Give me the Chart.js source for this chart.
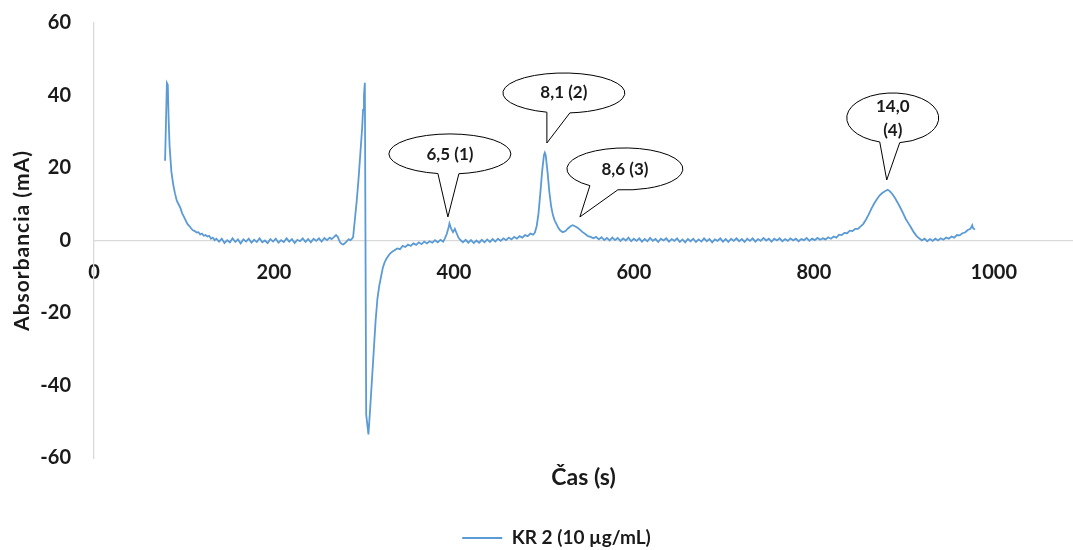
<!DOCTYPE html>
<html>
<head>
<meta charset="utf-8">
<script src="https://cdn.jsdelivr.net/npm/chart.js@4.4.1/dist/chart.umd.min.js"></script>
<style>
  html, body { margin: 0; background: #fff; }
  #wrap { width: 1073px; height: 550px; }
</style>
</head>
<body>
<div id="wrap"><canvas id="chart"></canvas></div>
<script>
// Data
const seriesLabel = 'KR 2 (10 µg/mL)';
const xTitle = 'Čas (s)';
const yTitle = 'Absorbancia (mA)';
const xTicks = [0, 200, 400, 600, 800, 1000];
const yTicks = [-60, -40, -20, 0, 20, 40, 60];

const timeS = [
  79, 81, 82, 83, 84, 86, 88, 90, 92, 94,
  96, 98, 100, 102, 104, 106, 108, 110, 112, 114,
  116, 118, 120, 122, 124, 126, 128, 130, 132, 134,
  136, 139, 142, 145, 148, 151, 154, 157, 160, 163,
  166, 169, 172, 175, 178, 181, 184, 187, 190, 193,
  196, 199, 202, 205, 208, 211, 214, 217, 220, 223,
  226, 229, 232, 235, 238, 241, 244, 247, 250, 253,
  256, 259, 262, 264, 266, 269, 271, 273, 275, 277,
  279, 281, 283, 285, 287, 288, 290, 292, 294, 296,
  298, 299, 300, 301, 302.5, 305, 307, 309, 311, 313,
  315, 317, 319, 321, 323, 325, 327, 329, 331, 334,
  337, 340, 343, 346, 349, 352, 355, 358, 361, 364,
  367, 370, 373, 376, 379, 382, 385, 388, 390, 392,
  394, 395, 397, 399, 401, 403, 405, 407, 410, 413,
  416, 419, 422, 425, 428, 431, 434, 437, 440, 443,
  446, 449, 452, 455, 458, 461, 464, 467, 470, 473,
  476, 479, 482, 485, 488, 490, 492, 494, 496, 498,
  500, 501, 502, 504, 506, 508, 510, 512, 514, 516,
  518, 521, 524, 527, 530, 532, 534, 537, 540, 543,
  546, 549, 552, 555, 558, 561, 564, 567, 570, 573,
  576, 579, 582, 585, 588, 591, 594, 597, 600, 603,
  606, 609, 612, 615, 618, 621, 624, 627, 630, 633,
  636, 639, 642, 645, 648, 651, 654, 657, 660, 663,
  666, 669, 672, 675, 678, 681, 684, 687, 690, 693,
  696, 699, 702, 705, 708, 711, 714, 717, 720, 723,
  726, 729, 732, 735, 738, 741, 744, 747, 750, 753,
  756, 759, 762, 765, 768, 771, 774, 777, 780, 783,
  786, 789, 792, 795, 798, 801, 804, 807, 810, 813,
  816, 819, 822, 825, 828, 831, 834, 837, 840, 843,
  846, 849, 852, 855, 858, 861, 864, 867, 870, 873,
  876, 879, 882, 884, 887, 890, 893, 896, 899, 902,
  905, 908, 911, 914, 917, 920, 923, 926, 929, 932,
  935, 938, 941, 944, 947, 950, 953, 956, 959, 962,
  965, 968, 971, 974, 976, 977, 979
];

const absorbance = [
  22, 43.5, 43, 33, 26, 19, 15.5, 13, 11, 10,
  9, 7.5, 6.5, 5.5, 4.5, 4, 3.3, 2.8, 2.6, 2.2,
  2.3, 1.7, 1.9, 1.3, 1.5, 1.1, 1.3, 0.5, 0.8, 0.1,
  0.5, -0.3, 0.5, -0.7, 0.1, -0.5, 0.6, -0.4, 0.3, -0.8,
  0.3, -0.3, 0.5, -0.6, 0.2, -0.4, 0.6, -0.5, 0, -0.7,
  0.4, -0.3, 0.5, -0.6, 0.1, -0.4, 0.6, -0.3, 0.4, -0.7,
  0.2, -0.2, 0.6, -0.4, 0.4, -0.5, 0.5, -0.1, 0.6, -0.3,
  0.7, 0.1, 0.8, 0.4, 0.8, 1.5, 1.0, -0.3, -0.9, -1.1,
  -0.7, -0.2, 0.3, 0.1, 0.6, 1, 6, 11, 17, 24,
  31, 36, 40, 43.5, -48, -53.5, -46, -38, -30, -22,
  -16, -12.5, -10, -7.5, -6, -5, -4.3, -3.6, -3.2, -2.7,
  -2.2, -2.4, -1.5, -1.8, -1.1, -1.5, -0.8, -1.2, -0.5, -1.0,
  -0.3, -0.8, -0.2, -0.6, 0.1, -0.5, 0.2, -0.3, 0.6, 1.8,
  3.5, 4.7, 3.2, 2.3, 3.2, 2.0, 0.8, 0.2, -0.5, 0.2,
  -0.6, 0.1, -0.7, 0, -0.6, 0.2, -0.5, 0.3, -0.4, 0.4,
  -0.3, 0.5, -0.1, 0.6, 0.1, 0.8, 0.3, 1.0, 0.5, 1.2,
  0.8, 1.5, 1.2, 1.9, 1.6, 2.2, 4, 7.5, 13, 19,
  23.5, 24.2, 23.5, 19, 13.5, 9.5, 7, 5.5, 4.5, 3.5,
  2.8, 2.3, 2.6, 3.4, 4.0, 4.2, 4.0, 3.6, 3.0, 2.3,
  1.8, 1.2, 1.0, 0.6, 1.0, 0.3, 0.9, 0.1, 0.7, 0,
  0.8, 0.1, 0.7, -0.1, 0.6, 0, 0.8, -0.2, 0.5, -0.1,
  0.6, -0.3, 0.4, -0.2, 0.7, -0.1, 0.4, -0.4, 0.5, 0,
  0.6, -0.3, 0.4, -0.1, 0.6, -0.4, 0.3, -0.5, 0.4, -0.2,
  0.5, -0.4, 0.3, -0.3, 0.6, -0.2, 0.4, -0.5, 0.3, -0.1,
  0.6, -0.3, 0.4, -0.4, 0.5, -0.1, 0.6, -0.2, 0.4, -0.4,
  0.5, -0.1, 0.6, -0.3, 0.4, -0.1, 0.7, 0, 0.5, -0.3,
  0.5, 0, 0.6, -0.2, 0.4, -0.1, 0.6, 0, 0.5, -0.2,
  0.4, 0.1, 0.7, -0.1, 0.5, 0.1, 0.7, 0.2, 0.6, 0.3,
  0.9, 0.5, 1.1, 0.8, 1.6, 1.5, 2.1, 2.0, 2.7, 2.6,
  3.2, 3.2, 3.9, 4.6, 5.8, 7.2, 8.8, 10.2, 11.4, 12.4,
  13.1, 13.6, 14.0, 13.7, 12.9, 11.8, 10.5, 9.1, 7.6, 6.0,
  4.8, 3.6, 2.3, 1.3, 0.6, 0, 0.5, -0.2, 0.4, -0.1,
  0.5, 0, 0.6, 0.2, 0.8, 0.5, 1.1, 0.8, 1.5, 1.4,
  2.0, 2.2, 2.9, 3.2, 4.2, 3.4, 3.0
];

// Callouts: text and where the pointer tip sits (s, mA)
const calloutTexts = [['6,5 (1)'], ['8,1 (2)'], ['8,6 (3)'], ['14,0', '(4)']];
const calloutTimes = [393.3, 503.3, 540, 881];
const calloutLevels = [6.5, 26.9, 6.5, 16.7];

const textColor = '#1a1a1a';
const axisColor = '#d9d9d9';
const lineColor = '#5b9bd5';

const calloutPlugin = {
  id: 'callouts',
  afterDatasetsDraw(chart, args, opts) {
    const { ctx, scales: { x, y } } = chart;
    ctx.save();
    ctx.lineWidth = 1;
    ctx.strokeStyle = '#000';
    calloutTexts.forEach((lines, i) => {
      const s = opts.shapes[i];
      const tx = x.getPixelForValue(calloutTimes[i]);
      const ty = y.getPixelForValue(calloutLevels[i]);
      const cx = tx + s.dx;
      const cy = ty + s.dy;
      const aR = Math.acos(s.right / s.rx);
      const aL = Math.acos(s.left / s.rx);
      ctx.beginPath();
      ctx.moveTo(cx + s.rx * Math.cos(aR), cy + s.ry * Math.sin(aR));
      ctx.lineTo(tx, ty);
      ctx.lineTo(cx + s.rx * Math.cos(aL), cy + s.ry * Math.sin(aL));
      ctx.ellipse(cx, cy, s.rx, s.ry, 0, aL, aR + Math.PI * 2, false);
      ctx.closePath();
      ctx.fillStyle = '#fff';
      ctx.fill();
      ctx.stroke();

      ctx.fillStyle = textColor;
      ctx.font = 'bold 17px Lato';
      ctx.textAlign = 'center';
      ctx.textBaseline = 'middle';
      lines.forEach((t, k) => {
        const ly = cy + s.textDy + (k - (lines.length - 1) / 2) * 24;
        ctx.fillText(t, cx, ly);
      });
    });

    // y axis title, letter-spaced like the original
    ctx.save();
    ctx.font = 'bold 21px Lato';
    ctx.letterSpacing = opts.yTitleSpacing + 'px';
    ctx.fillStyle = textColor;
    ctx.textAlign = 'center';
    ctx.textBaseline = 'middle';
    ctx.translate(opts.yTitleX, (chart.chartArea.top + chart.chartArea.bottom) / 2);
    ctx.rotate(-Math.PI / 2);
    ctx.fillText(yTitle, 0, 0);
    ctx.restore();

    ctx.restore();
  }
};

const tickFont = { family: 'Lato', weight: 'bold', size: 20 };

new Chart(document.getElementById('chart'), {
  type: 'line',
  data: {
    datasets: [{
      label: seriesLabel,
      data: timeS.map((t, i) => ({ x: t, y: absorbance[i] })),
      borderColor: lineColor,
      backgroundColor: lineColor,
      borderWidth: 1.8,
      pointRadius: 0,
      tension: 0,
      fill: false
    }]
  },
  options: {
    responsive: true,
    maintainAspectRatio: false,
    animation: false,
    layout: { padding: { left: 40, right: 0, top: 23, bottom: -7.5 } },
    plugins: {
      legend: {
        position: 'bottom',
        labels: {
          usePointStyle: true,
          pointStyle: 'line',
          pointStyleWidth: 40,
          color: textColor,
          font: { family: 'Lato', weight: 'bold', size: 19 },
          padding: 10
        }
      },
      tooltip: { enabled: false },
      callouts: {
        yTitleX: 22,
        yTitleSpacing: 1.0,
        shapes: [
          { dx: 2, dy: -63, rx: 61, ry: 20, left: -12, right: 9, textDy: 1 },
          { dx: 17, dy: -50, rx: 61, ry: 20, left: -17, right: 6, textDy: 0 },
          { dx: 45, dy: -48, rx: 58, ry: 21, left: -35, right: -7, textDy: 1 },
          { dx: 6, dy: -62, rx: 46, ry: 25, left: -13, right: 7, textDy: 1 }
        ]
      }
    },
    scales: {
      x: {
        type: 'linear',
        min: 0,
        max: 1088,
        position: { y: 0 },
        afterBuildTicks: (scale) => { scale.ticks = xTicks.map(v => ({ value: v })); },
        grid: { display: false, drawTicks: true, tickLength: 20 },
        border: { color: axisColor, width: 1.3 },
        ticks: { color: textColor, font: tickFont, padding: 0, maxRotation: 0, callback: (v) => String(v) }
      },
      x2: {
        type: 'linear',
        position: 'bottom',
        min: 0,
        max: 1,
        afterFit: (scale) => { scale.height = 60.5; },
        grid: { display: false, drawTicks: false },
        border: { display: false },
        ticks: { display: false },
        title: { display: true, text: xTitle, color: textColor, font: { family: 'Lato', weight: 'bold', size: 23 }, padding: { top: 0, bottom: 27 } }
      },
      y: {
        min: -60,
        max: 60,
        afterBuildTicks: (scale) => { scale.ticks = yTicks.map(v => ({ value: v })); },
        afterFit: (scale) => { scale.width = 54; },
        grid: { display: false, drawTicks: true, tickLength: 23 },
        border: { color: axisColor, width: 1.3 },
        ticks: { color: textColor, font: tickFont, padding: 0, callback: (v) => String(v) }
      }
    }
  },
  plugins: [calloutPlugin]
});
</script>
</body>
</html>
